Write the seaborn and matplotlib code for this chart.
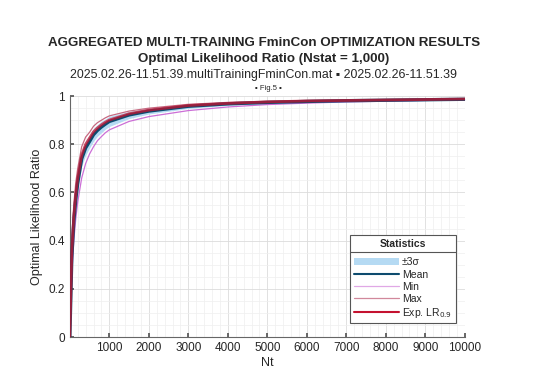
#!/usr/bin/env python3

import matplotlib

matplotlib.use("Agg")
import matplotlib.pyplot as plt
import numpy as np
import pandas as pd
import seaborn as sns
from matplotlib.patches import Patch
from matplotlib.lines import Line2D
from matplotlib.ticker import MultipleLocator

# values
nt = [0, 50, 100, 150, 200, 300, 400, 500, 600, 700, 800, 900, 1000,
      1500, 2000, 3000, 4000, 5000, 6000, 7000, 8000, 9000, 10000]
lr_mean = [0.0, 0.33, 0.48, 0.57, 0.64, 0.74, 0.785, 0.812, 0.84, 0.858, 0.872, 0.884, 0.895,
           0.922, 0.938, 0.958, 0.968, 0.974, 0.978, 0.981, 0.983, 0.985, 0.987]
lr_sigma = [0.0, 0.012, 0.012, 0.011, 0.011, 0.010, 0.010, 0.009, 0.009, 0.008, 0.008, 0.007, 0.007,
            0.005, 0.004, 0.003, 0.002, 0.002, 0.0015, 0.001, 0.001, 0.001, 0.001]
lr_min = [0.0, 0.26, 0.40, 0.49, 0.56, 0.66, 0.72, 0.76, 0.79, 0.815, 0.832, 0.848, 0.86,
          0.895, 0.915, 0.94, 0.955, 0.965, 0.971, 0.976, 0.979, 0.982, 0.985]
lr_max = [0.0, 0.40, 0.55, 0.64, 0.70, 0.79, 0.83, 0.85, 0.875, 0.89, 0.90, 0.91, 0.918,
          0.938, 0.95, 0.966, 0.974, 0.979, 0.982, 0.984, 0.986, 0.988, 0.99]
lr_exp = [0.0, 0.35, 0.50, 0.59, 0.66, 0.755, 0.80, 0.826, 0.852, 0.868, 0.881, 0.892, 0.901,
          0.927, 0.942, 0.961, 0.970, 0.976, 0.980, 0.982, 0.984, 0.986, 0.988]

x_ticks = [1000, 2000, 3000, 4000, 5000, 6000, 7000, 8000, 9000, 10000]
y_ticks = [0, 0.2, 0.4, 0.6, 0.8, 1.0]
y_tick_labels = ["0", "0.2", "0.4", "0.6", "0.8", "1"]

c_band = "#b5daf3"
c_mean = "#0d4b6e"
c_min = "#cc6ed6"
c_max = "#c66a82"
c_exp = "#c4122f"


def main():
    sns.set_theme(style="white")
    plt.rcParams["font.family"] = ["Liberation Sans", "DejaVu Sans"]

    data = pd.DataFrame({"Nt": nt, "mean": lr_mean, "sigma": lr_sigma,
                         "min": lr_min, "max": lr_max, "exp": lr_exp})
    lo = data["mean"] - 3 * data["sigma"]
    hi = data["mean"] + 3 * data["sigma"]

    fig = plt.figure(figsize=(5.33, 3.77), dpi=100)
    ax = fig.add_axes([0.131, 0.106, 0.741, 0.639])

    ax.fill_between(data["Nt"], lo, hi, color=c_band, linewidth=0, zorder=2)
    sns.lineplot(data=data, x="Nt", y="min", ax=ax, color=c_min, linewidth=0.9, zorder=3)
    sns.lineplot(data=data, x="Nt", y="max", ax=ax, color=c_max, linewidth=0.9, zorder=3)
    sns.lineplot(data=data, x="Nt", y="mean", ax=ax, color=c_mean, linewidth=2.4, zorder=4)
    sns.lineplot(data=data, x="Nt", y="exp", ax=ax, color=c_exp, linewidth=2.0, alpha=0.75, zorder=5)

    ax.set_xlim(0, 10000)
    ax.set_ylim(0, 1)
    ax.set_xticks(x_ticks)
    ax.set_xticklabels([str(t) for t in x_ticks], fontsize=8.5)
    ax.set_yticks(y_ticks)
    ax.set_yticklabels(y_tick_labels, fontsize=8.5)
    ax.xaxis.set_minor_locator(MultipleLocator(200))
    ax.yaxis.set_minor_locator(MultipleLocator(0.05))
    ax.grid(which="major", color="#dcdcdc", linewidth=0.6)
    ax.grid(which="minor", color="#efefef", linewidth=0.5)
    ax.set_axisbelow(True)
    ax.tick_params(which="major", direction="in", length=3, color="#555555", bottom=True, left=True)
    ax.tick_params(which="minor", length=0)
    for side in ["top", "right"]:
        ax.spines[side].set_visible(False)
    for side in ["left", "bottom"]:
        ax.spines[side].set_color("#666666")
        ax.spines[side].set_linewidth(0.8)

    ax.set_xlabel("Nt", fontsize=9, labelpad=2)
    ax.set_ylabel("Optimal Likelihood Ratio", fontsize=9, labelpad=4)

    fig.text(0.495, 0.885, "AGGREGATED MULTI-TRAINING FminCon OPTIMIZATION RESULTS",
             ha="center", va="center", fontsize=9.6, fontweight="bold")
    fig.text(0.495, 0.843, "Optimal Likelihood Ratio (Nstat = 1,000)",
             ha="center", va="center", fontsize=9.6, fontweight="bold")
    fig.text(0.495, 0.802, "2025.02.26-11.51.39.multiTrainingFminCon.mat \u25aa 2025.02.26-11.51.39",
             ha="center", va="center", fontsize=8.9)
    fig.text(0.503, 0.765, "\u25aa Fig.5 \u25aa", ha="center", va="center", fontsize=5.5)

    handles = [
        Patch(facecolor=c_band, edgecolor="none"),
        Line2D([], [], color=c_mean, linewidth=1.5),
        Line2D([], [], color=c_min, linewidth=0.9, alpha=0.6),
        Line2D([], [], color=c_max, linewidth=0.9, alpha=0.8),
        Line2D([], [], color=c_exp, linewidth=1.5),
    ]
    labels = ["\u00b13\u03c3", "Mean", "Min", "Max", "Exp. LR$_{0.9}$"]
    leg = ax.legend(handles, labels, title="Statistics", loc="lower right",
                    bbox_to_anchor=(0.99, 0.035), fontsize=7.5, title_fontsize=7.5,
                    handlelength=4.3, handletextpad=0.3, labelspacing=0.2,
                    borderpad=0.35, fancybox=False, framealpha=1, edgecolor="#555555")
    leg.get_title().set_fontweight("bold")
    leg.get_frame().set_linewidth(0.8)
    leg._legend_box.sep = 6

    # separator line under the legend title
    fig.canvas.draw()
    bb = leg.get_window_extent().transformed(fig.transFigure.inverted())
    tb = leg.get_title().get_window_extent().transformed(fig.transFigure.inverted())
    ysep = tb.y0 - 0.007
    fig.add_artist(Line2D([bb.x0, bb.x1], [ysep, ysep], color="#555555",
                          linewidth=0.8, transform=fig.transFigure))

    fig.savefig("out.png", dpi=100)


if __name__ == "__main__":
    main()
